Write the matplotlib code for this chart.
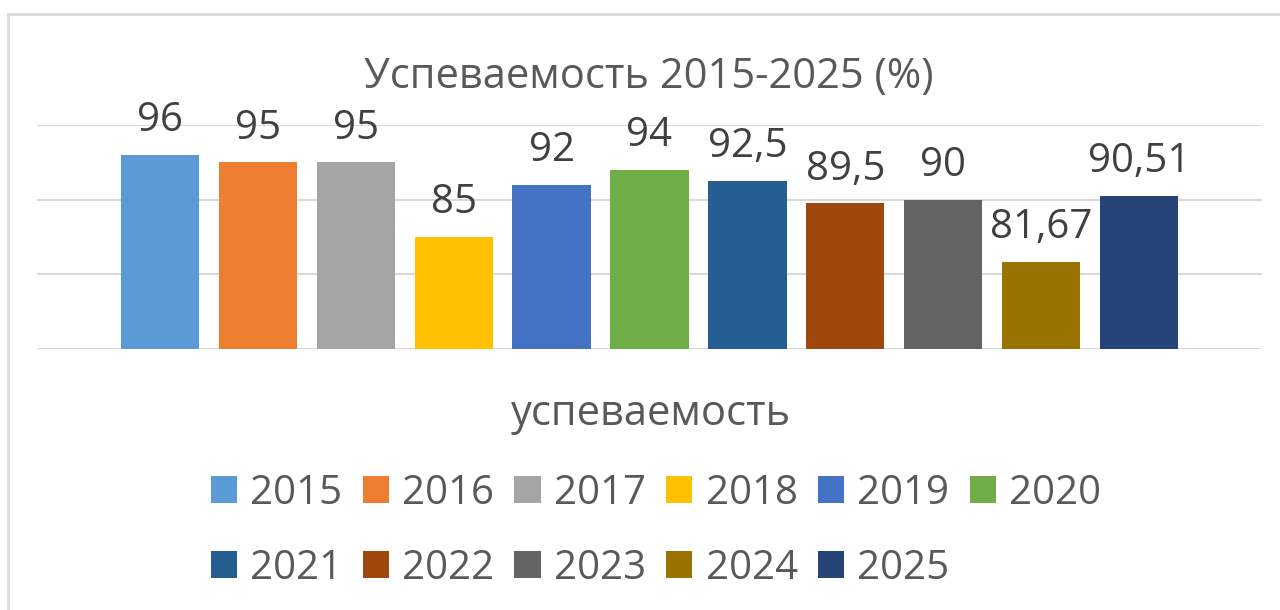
import matplotlib.pyplot as plt
from matplotlib.patches import Patch
from matplotlib.lines import Line2D

plt.rcParams['font.family'] = ['Open Sans', 'DejaVu Sans']

years = ['2015', '2016', '2017', '2018', '2019', '2020',
         '2021', '2022', '2023', '2024', '2025']
values = [96, 95, 95, 85, 92, 94, 92.5, 89.5, 90, 81.67, 90.51]
labels = ['96', '95', '95', '85', '92', '94', '92,5', '89,5', '90', '81,67', '90,51']
colors = ['#5B9BD5', '#ED7D31', '#A5A5A5', '#FFC000', '#4472C4', '#70AD47',
          '#255E91', '#9E480E', '#636363', '#997300', '#264478']

W, H = 1280, 610
fig = plt.figure(figsize=(W / 100, H / 100), dpi=100)

# plot area in pixels: x 37..1262, y 125..349
ax = fig.add_axes([37 / W, (H - 349) / H, (1262 - 37) / W, (349 - 125) / H])
x = list(range(len(values)))
ax.bar(x, [v - 70 for v in values], bottom=70, width=0.8, color=colors, zorder=3)
ax.set_ylim(70, 100)
ax.set_xlim(-1.256, 10.256 + 1)
for y in [70, 80, 90, 100]:
    ax.axhline(y, color='#D9D9D9', lw=1.5, zorder=1)
for s in ax.spines.values():
    s.set_visible(False)
ax.set_xticks([])
ax.set_yticks([])

for xi, v, lab in zip(x, values, labels):
    ax.annotate(lab, (xi, v), xytext=(0, 17), textcoords='offset points',
                ha='center', va='baseline', fontsize=29, color='#404040')

fig.text(0.5 * (362 + 935) / W, 1 - 88 / H, 'Успеваемость 2015-2025 (%)',
         ha='center', va='baseline', fontsize=30, color='#595959')
fig.text(651 / W, 1 - 425 / H, 'успеваемость',
         ha='center', va='baseline', fontsize=30, color='#595959')

# chart border (left and top visible)
fig.add_artist(Line2D([8 / W, 8 / W], [0, 1 - 14 / H], color='#D9D9D9', lw=2))
fig.add_artist(Line2D([8 / W, 1], [1 - 14 / H, 1 - 14 / H], color='#D9D9D9', lw=2))

# legend filled row by row: 6 entries in the first row, 5 in the second
order = [0, 6, 1, 7, 2, 8, 3, 9, 4, 10, 5]
handles = [Patch(facecolor=colors[i], edgecolor='none') for i in order]
leg = fig.legend(handles, [years[i] for i in order], loc='center',
                 bbox_to_anchor=(656 / W, 1 - 531 / H),
                 ncol=6, frameon=False, fontsize=29, labelcolor='#595959',
                 handlelength=0.65, handleheight=0.65, handletextpad=0.33,
                 columnspacing=0.5, labelspacing=0.85, borderpad=0)

fig.savefig('out.png', dpi=100, facecolor='white')
